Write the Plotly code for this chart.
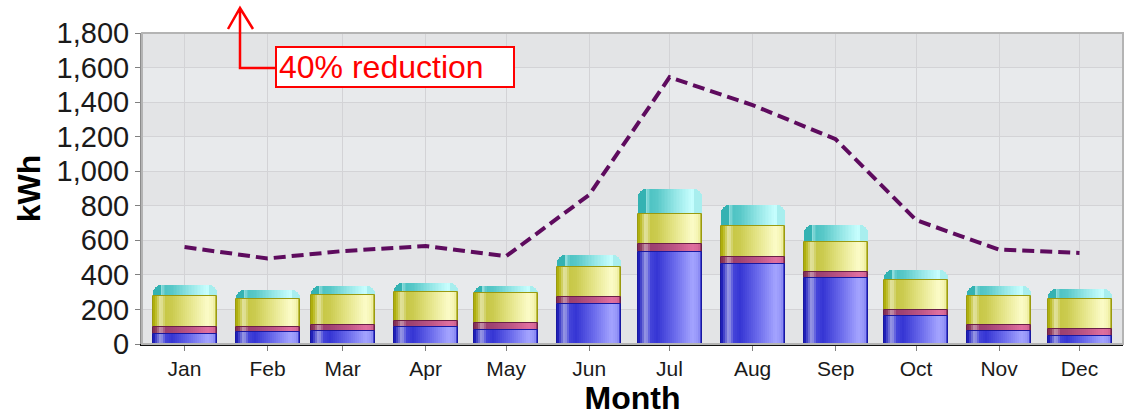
import plotly.graph_objects as go

# ---------------- data ----------------
months = ["Jan", "Feb", "Mar", "Apr", "May", "Jun",
          "Jul", "Aug", "Sep", "Oct", "Nov", "Dec"]
month_dates = ["2019-01-01", "2019-02-01", "2019-03-01", "2019-04-01",
               "2019-05-01", "2019-06-01", "2019-07-01", "2019-08-01",
               "2019-09-01", "2019-10-01", "2019-11-01", "2019-12-01"]
seg_blue = [60, 68, 74, 100, 83, 233, 533, 463, 382, 161, 74, 49]
seg_pink = [40, 32, 34, 35, 38, 38, 44, 40, 36, 38, 36, 38]
seg_yellow = [180, 158, 174, 168, 175, 176, 177, 180, 171, 171, 167, 175]
seg_cyan = [63, 52, 56, 49, 37, 71, 141, 120, 101, 56, 56, 58]
baseline_line = [561, 495, 538, 567, 508, 863, 1544, 1383, 1185, 717, 546, 527]
y_tick_vals = [0, 200, 400, 600, 800, 1000, 1200, 1400, 1600, 1800]
annotation_text = "40% reduction"

# ---------------- geometry / style ----------------
W_PX, H_PX = 1129, 417
M_L, M_R, M_T, M_B = 142, 6, 33, 73
PLOT_W = W_PX - M_L - M_R
PLOT_H = H_PX - M_T - M_B
PX_PER_DAY = 2.6796
MS_PER_PX = 86400000 / PX_PER_DAY
BAR_PX = 64
BAR_MS = BAR_PX * MS_PER_PX
N_STRIPS = 32
RADIUS = 8


def hex2rgb(h):
    h = h.lstrip("#")
    return tuple(int(h[i:i + 2], 16) for i in (0, 2, 4))


def grad(stops, t):
    for (t0, c0), (t1, c1) in zip(stops[:-1], stops[1:]):
        if t0 <= t <= t1:
            a = (t - t0) / (t1 - t0) if t1 > t0 else 0
            r0, g0, b0 = hex2rgb(c0)
            r1, g1, b1 = hex2rgb(c1)
            return "rgb(%d,%d,%d)" % (r0 + (r1 - r0) * a, g0 + (g1 - g0) * a, b0 + (b1 - b0) * a)
    return stops[-1][1]


blue_stops = [(0, '#1010b0'), (0.05, '#4848cc'), (0.12, '#a0a0e6'), (0.2, '#4444da'),
              (0.3, '#3636d4'), (0.6, '#7070ee'), (0.85, '#a4a4ff'), (0.95, '#9494f8'), (1, '#2020c0')]
pink_stops = [(0, '#802850'), (0.05, '#904060'), (0.12, '#c898b0'), (0.2, '#9c4070'),
              (0.3, '#a04474'), (0.6, '#c05888'), (0.85, '#e070a0'), (0.95, '#d86898'), (1, '#802850')]
yellow_stops = [(0, '#a8a800'), (0.05, '#c0c030'), (0.12, '#e6e6aa'), (0.2, '#c8c848'),
                (0.3, '#cccc50'), (0.6, '#e8e890'), (0.85, '#fcfcc8'), (0.95, '#f4f4b0'), (1, '#a8a810')]
cyan_stops = [(0, '#10a0a0'), (0.05, '#30b4b4'), (0.12, '#a0e4e4'), (0.2, '#50c4c4'),
              (0.3, '#58c8c8'), (0.6, '#98e8e8'), (0.85, '#c8ffff'), (0.95, '#b0f0f0'), (1, '#20a8a8')]

# cumulative stack levels computed from the segment data
lvl1 = seg_blue
lvl2 = [a + b for a, b in zip(lvl1, seg_pink)]
lvl3 = [a + b for a, b in zip(lvl2, seg_yellow)]
lvl4 = [a + b for a, b in zip(lvl3, seg_cyan)]
zeros = [0] * len(months)

fig = go.Figure()


def bar(values, base, x0_px, x1_px, color, radius=None, line=None):
    mk = dict(color=color, line=line or dict(width=0))
    if radius:
        mk["cornerradius"] = radius
    fig.add_trace(go.Bar(
        x=month_dates, y=values, base=base,
        offset=(-BAR_PX / 2 + x0_px) * MS_PER_PX,
        width=(x1_px - x0_px) * MS_PER_PX,
        marker=mk, showlegend=False, hoverinfo="skip"))


def add_flat_segment(values, base, stops, edge):
    for k in range(N_STRIPS):
        start_px = k * BAR_PX / N_STRIPS
        bar(values, base, start_px, BAR_PX, grad(stops, (k + 0.5) / N_STRIPS))
    bar(values, base, 0, BAR_PX, "rgba(0,0,0,0)", line=dict(width=1, color=edge))


# cyan cap: drawn from zero to the stack top with rounded top corners,
# lower segments are drawn over it afterwards
bar(lvl4, zeros, 0, BAR_PX, "#a8eeee", radius=RADIUS)            # right corner colour
bar(lvl4, zeros, 0, BAR_PX - RADIUS, "#34b2b2", radius=RADIUS)   # left corner colour
inner = BAR_PX - 2 * RADIUS
for k in range(N_STRIPS):
    start_px = RADIUS + k * inner / N_STRIPS
    t = (RADIUS + (k + 0.5) * inner / N_STRIPS) / BAR_PX
    bar(lvl4, zeros, start_px, BAR_PX - RADIUS, grad(cyan_stops, t))

add_flat_segment(seg_yellow, lvl2, yellow_stops, "#9a9a10")
add_flat_segment(seg_pink, lvl1, pink_stops, "#6a2048")
add_flat_segment(seg_blue, zeros, blue_stops, "#1818a0")

fig.add_trace(go.Scatter(
    x=month_dates, y=baseline_line, mode="lines",
    line=dict(color="#5e0b5e", width=4, dash="12px,6px"),
    showlegend=False, hoverinfo="skip"))

# alternating background bands
shapes = []
for i in range(len(y_tick_vals) - 1):
    lo, hi = y_tick_vals[i], y_tick_vals[i + 1]
    color = "#e3e4e6" if i % 2 == 0 else "#e8eaec"
    shapes.append(dict(type="rect", xref="paper", yref="y", x0=0, x1=1, y0=lo, y1=hi,
                       fillcolor=color, line=dict(width=0), layer="below"))
# plot frame (top/right)
shapes.append(dict(type="rect", xref="paper", yref="paper", x0=0, x1=1, y0=0, y1=1,
                   line=dict(color="#b4b4b4", width=2), fillcolor="rgba(0,0,0,0)", layer="above"))


def px(xp):
    return (xp - M_L) / PLOT_W


def py(yp):
    return (M_T + PLOT_H - yp) / PLOT_H


# bent arrow from the label
arrow_path = "M %f %f L %f %f L %f %f M %f %f L %f %f L %f %f" % (
    px(275), py(68), px(240), py(68), px(240), py(8),
    px(228), py(29), px(240), py(8), px(253), py(29))
shapes.append(dict(type="path", xref="paper", yref="paper", path=arrow_path,
                   line=dict(color="#ff0000", width=2.5)))

fig.update_layout(
    width=W_PX, height=H_PX,
    margin=dict(l=M_L, r=M_R, t=M_T, b=M_B),
    paper_bgcolor="white", plot_bgcolor="#e8eaec",
    barmode="overlay", bargap=0,
    font=dict(family="Liberation Sans, Arial, sans-serif", color="#1a1a1a"),
    shapes=shapes,
    annotations=[dict(
        xref="paper", yref="paper", x=px(395), y=py(67),
        xanchor="center", yanchor="middle",
        text=annotation_text, showarrow=False, align="left",
        width=232, height=34, borderpad=2,
        font=dict(size=32, color="#ff0000"),
        bgcolor="white", bordercolor="#ff0000", borderwidth=2)],
)

fig.update_xaxes(
    type="date", range=["2018-12-16 03:00", "2019-12-17 05:30"],
    tickvals=month_dates, ticktext=months,
    tickfont=dict(size=21, color="#1a1a1a"),
    ticks="outside", ticklen=5, tickcolor="#808080", tickwidth=1,
    showgrid=True, gridcolor="#d3d3d6", gridwidth=1,
    showline=True, linecolor="#111111", linewidth=2,
    title=dict(text="<b>Month</b>", font=dict(size=32, color="#000000"), standoff=4),
    zeroline=False)

fig.update_yaxes(
    range=[0, 1800], tickvals=y_tick_vals, tickformat=",",
    tickfont=dict(size=29, color="#1a1a1a"),
    ticks="outside", ticklen=5, tickcolor="#808080", tickwidth=1,
    showgrid=True, gridcolor="#d3d3d6", gridwidth=1,
    showline=True, linecolor="#8c8c8c", linewidth=2,
    title=dict(text="<b>kWh</b>", font=dict(size=32, color="#000000"), standoff=6),
    zeroline=False)

fig.write_html("out.html", config={"displayModeBar": False},
               post_script="document.body.style.margin='0';document.body.style.padding='0';")
